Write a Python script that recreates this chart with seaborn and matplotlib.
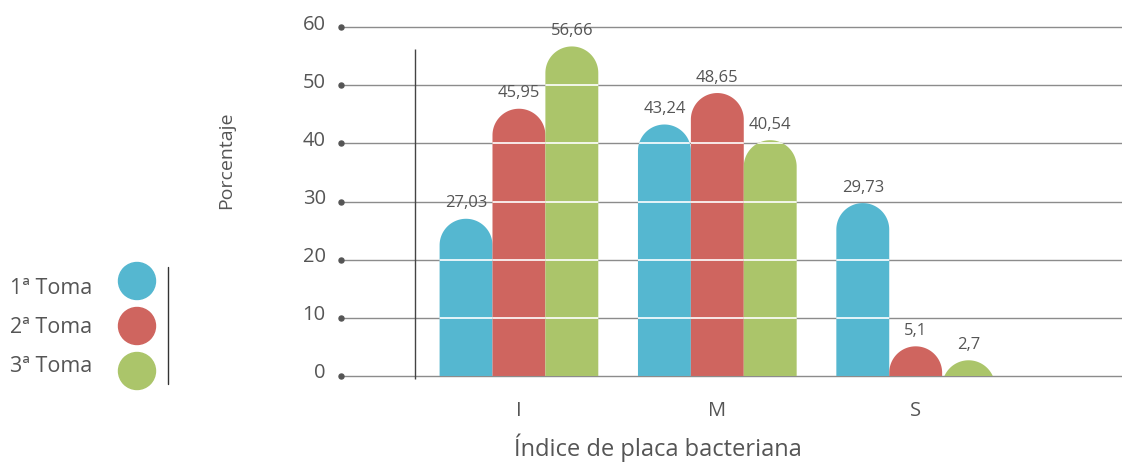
import numpy as np
import pandas as pd
import matplotlib
matplotlib.use("Agg")
import matplotlib.pyplot as plt
import seaborn as sns
from matplotlib.path import Path
from matplotlib.patches import PathPatch, Rectangle, Circle
import matplotlib.transforms as mtransforms

categories = ["I", "M", "S"]
series_names = ["1ª Toma", "2ª Toma", "3ª Toma"]
toma1 = [27.03, 43.24, 29.73]
toma2 = [45.95, 48.65, 5.1]
toma3 = [56.66, 40.54, 2.7]
yticks = [0, 10, 20, 30, 40, 50, 60]
colors = ["#55B7D0", "#CF655F", "#ABC56A"]

rows = []
for name, vals in zip(series_names, [toma1, toma2, toma3]):
    for c, v in zip(categories, vals):
        rows.append({"indice": c, "pct": v, "toma": name})
df = pd.DataFrame(rows)

sns.set_theme(style="white")
plt.rcParams["font.family"] = ["Open Sans", "DejaVu Sans"]
TXT = "#555555"

W, H = 1123, 464
fig = plt.figure(figsize=(W / 100, H / 100), dpi=100)
ax_left, ax_right = 341, 1122
ax_top, ax_bot = 22.2, 382.8
ax = fig.add_axes([ax_left / W, 1 - ax_bot / H, (ax_right - ax_left) / W, (ax_bot - ax_top) / H])

sns.barplot(data=df, x="indice", y="pct", hue="toma", palette=colors, width=0.8,
            gap=0, ax=ax, legend=False, saturation=1, errorbar=None)
ax.set_xlim(-0.897, 3.04)
ax.set_ylim(-1, 61)

p0 = ax.transData.transform((0, 0))
p1 = ax.transData.transform((1, 1))
px_x = p1[0] - p0[0]
px_y = p1[1] - p0[1]

clip_rect = Rectangle((-5, 0), 20, 200, transform=ax.transData)


def bar_path(x0, w, h, ry):
    cx = x0 + w / 2
    cy = h - ry
    th = np.linspace(0, np.pi, 80)
    xs = cx + (w / 2) * np.cos(th)
    ys = cy + ry * np.sin(th)
    base = min(0, cy)
    verts = [(x0 + w, base)] + list(zip(xs, ys)) + [(x0, base), (x0 + w, base)]
    codes = [Path.MOVETO] + [Path.LINETO] * (len(xs) + 1) + [Path.CLOSEPOLY]
    return Path(verts, codes)


for cont, col in zip(ax.containers, colors):
    for bar in cont:
        x0 = bar.get_x()
        w = bar.get_width()
        h = bar.get_height()
        ry = (w * px_x / 2) / px_y
        patch = PathPatch(bar_path(x0, w, h, ry), facecolor=col, edgecolor="none", zorder=2)
        ax.add_patch(patch)
        patch.set_clip_path(clip_rect)
        bar.set_visible(False)
        for t in yticks[1:]:
            if t < h:
                ln = ax.axhline(t, color="white", lw=1.2, zorder=3)
                ln.set_clip_path(patch)
    labels = [f"{v:g}".replace(".", ",") for v in cont.datavalues]
    ax.bar_label(cont, labels=labels, padding=6, fontsize=12, color=TXT)

ax.set_yticks(yticks)
ax.yaxis.grid(True, color="#8c8c8c", lw=1)
ax.xaxis.grid(False)
ax.set_axisbelow(True)
for s in ax.spines.values():
    s.set_visible(False)
ax.tick_params(axis="y", length=0, labelsize=14.5, labelcolor=TXT, pad=11)
ax.tick_params(axis="x", length=0, labelsize=14.5, labelcolor=TXT, pad=13)
for lab in ax.get_yticklabels():
    lab.set_transform(lab.get_transform() + mtransforms.ScaledTranslation(0, 6 / 100, fig.dpi_scale_trans))

ax.scatter([ax.get_xlim()[0]] * len(yticks), yticks, s=13, color="#555555", clip_on=False, zorder=4)
ax.vlines(-0.524, -0.5, 56.2, color="#444444", lw=1, zorder=1)

ax.set_xlabel("Índice de placa bacteriana", fontsize=17, color=TXT)
ax.xaxis.set_label_coords(0.406, -0.14)
ax.set_ylabel("Porcentaje", fontsize=14, color=TXT)
ax.yaxis.set_label_coords(-0.135, 0.618)

# legend
lax = fig.add_axes([0, 0, 300 / W, 1])
lax.set_xlim(0, 300)
lax.set_ylim(H, 0)
lax.axis("off")
circ_y = [282, 327, 372]
text_y = [289, 328, 367]
for name, col, cy, ty in zip(series_names, colors, circ_y, text_y):
    lax.add_patch(Circle((137, cy), 18.5, color=col))
    lax.text(10, ty, name, va="center", ha="left", fontsize=15.5, color=TXT)
lax.plot([168, 168], [268, 385], color="#333333", lw=1)

fig.savefig("out.png", dpi=100)
